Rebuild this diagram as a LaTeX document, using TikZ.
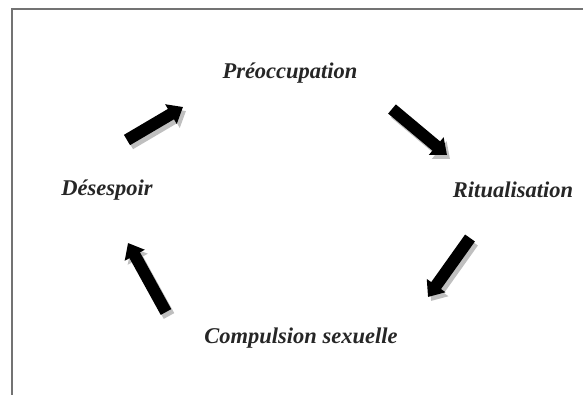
\documentclass[tikz,border=0pt]{standalone}
\usepackage{fontspec}
\setmainfont{Liberation Serif}
\usepackage{tikz}
\usetikzlibrary{arrows.meta, positioning}

\begin{document}
\begin{tikzpicture}[x=1pt, y=-1pt]
\tikzstyle{stage} = [font=\fontsize{22.5}{26}\selectfont\bfseries\itshape,
    text=black!85, inner sep=0pt]
\tikzstyle{frame} = [draw=black!55, line width=1.6pt]
\tikzstyle{bigarrow} = [line width=12pt, line cap=butt,
    -{Triangle[width=22pt, length=14pt]}]
\tikzstyle{arrowshade} = [bigarrow, draw=black!25, fill=black!25]

\useasboundingbox (0,0) rectangle (583,395);
\draw [frame] (12,395) -- (12,9) -- (583,9);

\node (preocc) [stage] at (290,73) {Préoccupation};
\node (ritual) [stage] at (513,190) {Ritualisation};
\node (compuls) [stage] at (301,338) {Compulsion sexuelle};
\node (desesp) [stage] at (107,190) {Désespoir};

% end points of the block arrows
\coordinate (a1s) at (127,140);  \coordinate (a1e) at (183,107);
\coordinate (a2s) at (392,109);  \coordinate (a2e) at (447,155);
\coordinate (a3s) at (470,238);  \coordinate (a3e) at (428,297);
\coordinate (a4s) at (166,312);  \coordinate (a4e) at (128,243);

% grey relief under each arrow
\foreach \s/\e in {a1s/a1e, a2s/a2e, a3s/a3e, a4s/a4e}
    \draw [arrowshade, transform canvas={shift={(3pt,-4pt)}}] (\s) -- (\e);

\draw [bigarrow] (a1s) -- (a1e);
\draw [bigarrow] (a2s) -- (a2e);
\draw [bigarrow] (a3s) -- (a3e);
\draw [bigarrow] (a4s) -- (a4e);
\end{tikzpicture}
\end{document}
